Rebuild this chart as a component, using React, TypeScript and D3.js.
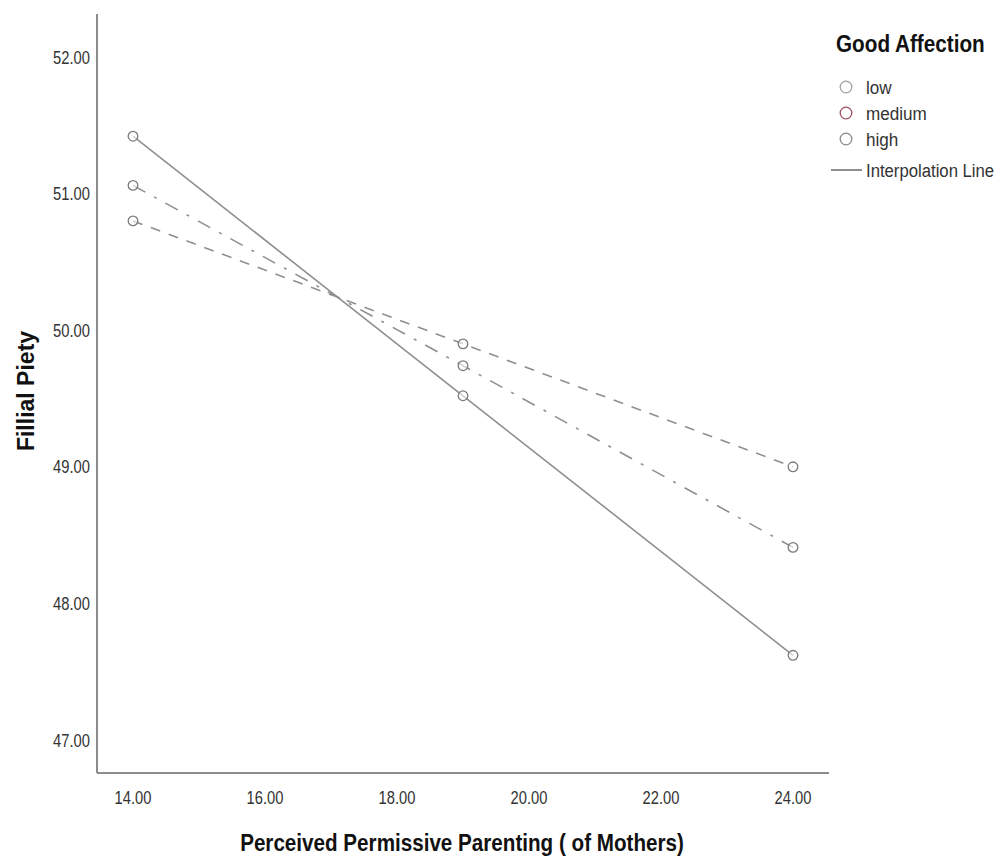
import React from "react";
import * as d3 from "d3";

const xTicks = [14, 16, 18, 20, 22, 24];
const yTicks = [47, 48, 49, 50, 51, 52];
const xValues = [14, 19, 24];
const lowSeries = [51.42, 49.52, 47.62];
const mediumSeries = [51.06, 49.74, 48.41];
const highSeries = [50.8, 49.9, 49.0];
const legendItems = ["low", "medium", "high"];
const legendColors = ["#a0a0a0", "#a05060", "#8a8a8a"];

const series = [
  { name: "low", values: lowSeries, dash: "none" },
  { name: "medium", values: mediumSeries, dash: "14,10,3,10" },
  { name: "high", values: highSeries, dash: "10,9" },
];

const FONT = "'Liberation Sans', Arial, sans-serif";

function NText(props: {
  x: number;
  y: number;
  size: number;
  sx?: number;
  anchor?: "start" | "middle" | "end";
  bold?: boolean;
  fill?: string;
  children: React.ReactNode;
}) {
  const { x, y, size, sx = 0.82, anchor = "start", bold = false, fill = "#222", children } = props;
  return (
    <text
      transform={`translate(${x},${y}) scale(${sx},1)`}
      textAnchor={anchor}
      fontFamily={FONT}
      fontSize={size}
      fontWeight={bold ? "bold" : "normal"}
      fill={fill}
    >
      {children}
    </text>
  );
}

export default function App() {
  const W = 1000;
  const H = 861;
  const x = d3.scaleLinear().domain([14, 24]).range([133, 793]);
  const y = d3.scaleLinear().domain([47, 52]).range([740, 57]);
  const line = d3
    .line<[number, number]>()
    .x((d) => x(d[0]))
    .y((d) => y(d[1]));
  const axisColor = "#8c8c8c";
  const lineColor = "#8f8f8f";

  return (
    <svg width={W} height={H} style={{ position: "absolute", left: 0, top: 0, background: "#fff" }}>
      <rect x={0} y={0} width={W} height={H} fill="#fff" />
      {/* axes */}
      <line x1={97} y1={14} x2={97} y2={773} stroke={axisColor} strokeWidth={2} />
      <line x1={97} y1={773} x2={829} y2={773} stroke={axisColor} strokeWidth={2} />
      {yTicks.map((t) => (
        <NText key={t} x={90} y={y(t) + 6.5} size={18} anchor="end" fill="#333">
          {t.toFixed(2)}
        </NText>
      ))}
      {xTicks.map((t) => (
        <NText key={t} x={x(t)} y={804} size={18} anchor="middle" fill="#333">
          {t.toFixed(2)}
        </NText>
      ))}
      {/* lines */}
      {series.map((s) => (
        <path
          key={s.name}
          d={line(xValues.map((v, i) => [v, s.values[i]] as [number, number])) || ""}
          fill="none"
          stroke={lineColor}
          strokeWidth={1.6}
          strokeDasharray={s.dash}
        />
      ))}
      {series.map((s) =>
        xValues.map((v, i) => (
          <circle
            key={s.name + i}
            cx={x(v)}
            cy={y(s.values[i])}
            r={4.8}
            fill="#fff"
            fillOpacity={0.6}
            stroke="#7a7a7a"
            strokeWidth={1.3}
          />
        ))
      )}
      {/* axis titles */}
      <text
        transform={`translate(34,391) rotate(-90)`}
        textAnchor="middle"
        fontFamily={FONT}
        fontWeight="bold"
        fontSize={23}
        fill="#111"
      >
        Fillial Piety
      </text>
      <NText x={462} y={851} size={24} sx={0.86} anchor="middle" bold fill="#111">
        Perceived Permissive Parenting ( of Mothers)
      </NText>
      {/* legend */}
      <NText x={836} y={52} size={23} sx={0.9} bold fill="#111">
        Good Affection
      </NText>
      {legendItems.map((name, i) => (
        <g key={name}>
          <circle cx={846} cy={87 + i * 26} r={5.8} fill="none" stroke={legendColors[i]} strokeWidth={1.3} />
          <NText x={866} y={87 + i * 26 + 6.5} size={19} sx={0.9} fill="#333">
            {name}
          </NText>
        </g>
      ))}
      <line x1={831} y1={170} x2={862} y2={170} stroke={lineColor} strokeWidth={2} />
      <NText x={866} y={176.5} size={19} sx={0.88} fill="#333">
        Interpolation Line
      </NText>
    </svg>
  );
}
